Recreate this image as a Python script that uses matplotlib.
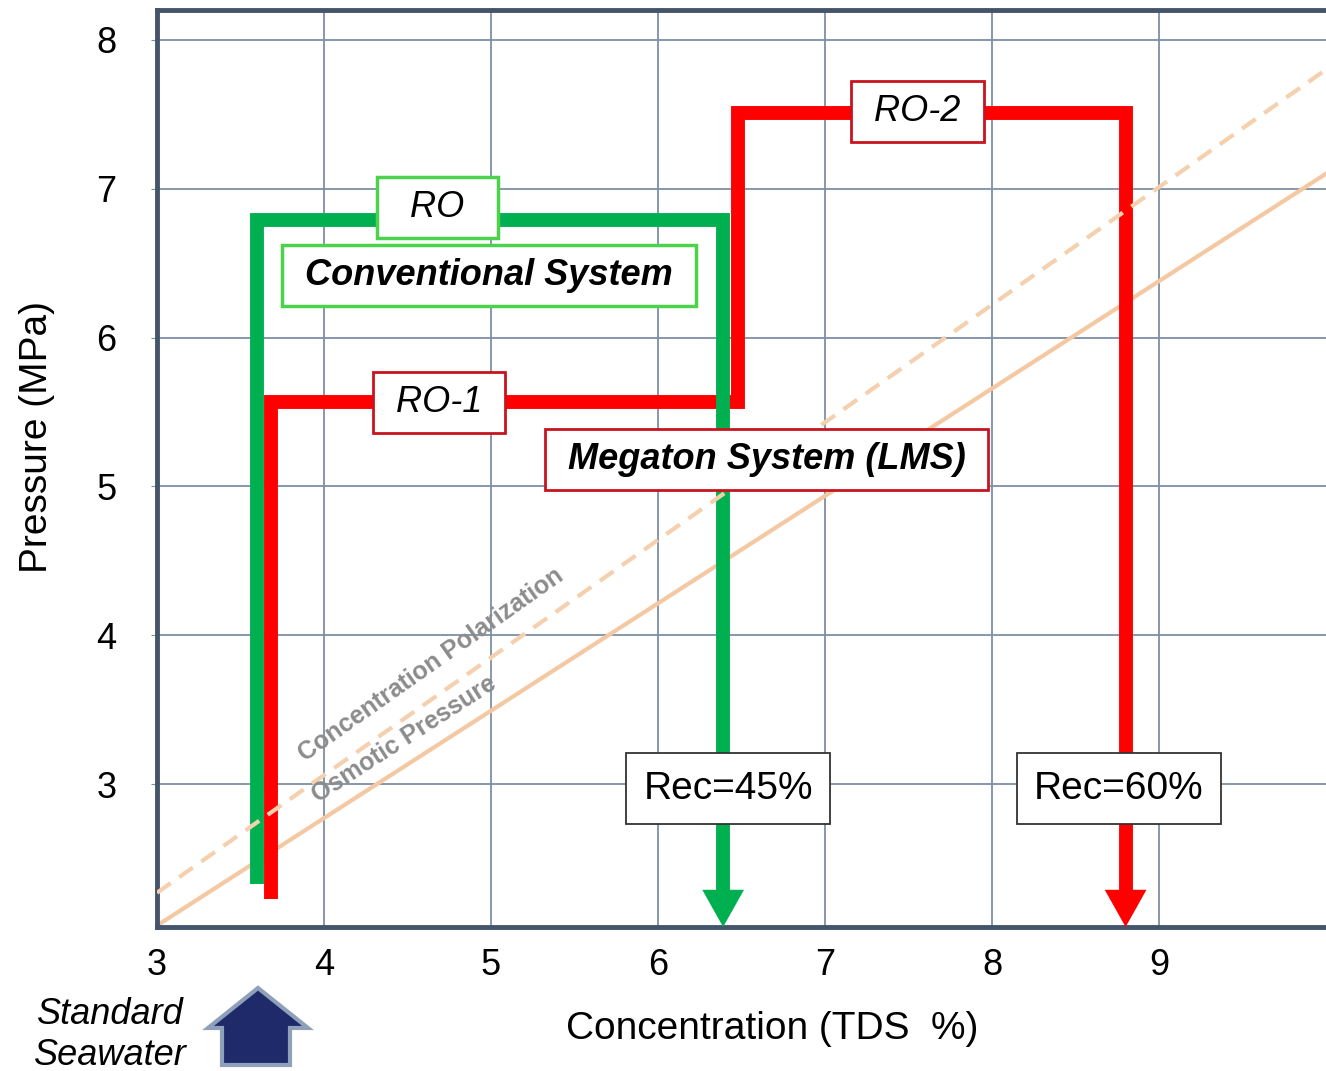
import numpy as np
import matplotlib
matplotlib.use("Agg")
from matplotlib import pyplot as plt
from matplotlib.patches import Polygon

plt.rcParams['font.family'] = ['Liberation Sans', 'DejaVu Sans']

### data
conc_ticks = [3, 4, 5, 6, 7, 8, 9]
pressure_ticks = [3, 4, 5, 6, 7, 8]

# osmotic pressure and concentration polarization lines (TDS %, MPa)
osm_x = [3.0, 10.0]
osm_y = [2.05, 7.10]
cp_x = [3.0, 10.0]
cp_y = [2.27, 7.80]

# conventional RO path (green) and Megaton LMS path (red)
conv_x = [3.60, 3.60, 6.39, 6.39]
conv_y = [2.33, 6.79, 6.79, 2.04]
lms_x = [3.68, 3.68, 6.48, 6.48, 8.80, 8.80]
lms_y = [2.23, 5.57, 5.57, 7.51, 7.51, 2.04]

green = '#00b050'
red = '#ff0000'
spine_col = '#44546a'
grid_col = '#7d90a6'


### arrow head at the end of a path
def path_with_head(ax, xs, ys, color, zorder, head_w=0.125, head_l=0.25):
    xs = list(xs)
    ys = list(ys)
    tip_x, tip_y = xs[-1], ys[-1]
    ys_line = ys[:-1] + [tip_y + head_l]
    ax.plot(xs, ys_line, color=color, lw=10, solid_joinstyle='miter',
            solid_capstyle='butt', zorder=zorder)
    ax.fill([tip_x - head_w, tip_x + head_w, tip_x],
            [tip_y + head_l, tip_y + head_l, tip_y],
            color=color, lw=0, zorder=zorder)


fig = plt.figure(figsize=(13.26, 10.71), dpi=100)
ax = fig.add_axes([157 / 1326, 1 - 927 / 1071, 1169 / 1326, 917 / 1071])

ax.set_xlim(3, 10)
ax.set_ylim(2.04, 8.2)
ax.set_xticks(conc_ticks)
ax.set_yticks(pressure_ticks)
ax.grid(True, color=grid_col, lw=1.3)
ax.set_axisbelow(True)

for s in ['left', 'top', 'bottom']:
    ax.spines[s].set_color(spine_col)
    ax.spines[s].set_linewidth(3.5)
ax.spines['right'].set_visible(False)

ax.tick_params(axis='y', length=4, color=grid_col, labelsize=26, pad=25)
ax.tick_params(axis='x', length=0, labelsize=26, pad=15)

ax.set_xlabel('Concentration (TDS  %)', fontsize=28)
ax.set_ylabel('Pressure (MPa)', fontsize=28)
ax.xaxis.set_label_coords((772 - 157) / 1169, -0.092)
ax.yaxis.set_label_coords(-0.087, (927 - 437) / 917)

# osmotic pressure lines
ax.plot(osm_x, osm_y, color='#f4c8a2', lw=3, zorder=2)
ax.plot(cp_x, cp_y, color='#f5d0ae', lw=3, dashes=(4, 2.5), zorder=4)

# rotated line labels, angle follows the line slope
cp_slope = (cp_y[1] - cp_y[0]) / (cp_x[1] - cp_x[0])
osm_slope = (osm_y[1] - osm_y[0]) / (osm_x[1] - osm_x[0])
ax.text(4.64, 3.80, 'Concentration Polarization', color='#8c8c8c', fontsize=18,
        fontweight='bold', ha='center', va='center', zorder=5,
        rotation=np.degrees(np.arctan(cp_slope)), transform_rotates_text=True,
        rotation_mode='anchor')
ax.text(4.48, 3.30, 'Osmotic Pressure', color='#8c8c8c', fontsize=18,
        fontweight='bold', ha='center', va='center', zorder=5,
        rotation=np.degrees(np.arctan(osm_slope)), transform_rotates_text=True,
        rotation_mode='anchor')

# process paths
path_with_head(ax, lms_x, lms_y, red, 3)
path_with_head(ax, conv_x, conv_y, green, 3.2)


# boxed labels
def box_label(x, y, txt, edge, size=26, weight='normal', style='italic', lw=2.5, pad=0.36):
    ax.text(x, y, txt, fontsize=size, fontweight=weight, fontstyle=style,
            ha='center', va='center', zorder=6,
            bbox=dict(boxstyle='square,pad=%s' % pad, fc='white', ec=edge, lw=lw))

box_label(4.68, 6.87, '  RO  ', '#4cd24c')
box_label(4.99, 6.415, ' Conventional System ', '#4cd24c', weight='bold')
box_label(4.69, 5.564, ' RO-1 ', '#c8141e', lw=2)
box_label(6.65, 5.18, ' Megaton System (LMS) ', '#c8141e', weight='bold', lw=2)
box_label(7.555, 7.52, ' RO-2 ', '#c8141e', lw=2)
box_label(6.42, 2.97, 'Rec=45%', '#333333', size=28, style='normal', lw=1.3, pad=0.45)
box_label(8.76, 2.97, 'Rec=60%', '#333333', size=28, style='normal', lw=1.3, pad=0.45)

# standard seawater marker under the axis
fig.text(110 / 1326, 1 - 1035 / 1071, 'Standard\nSeawater', fontsize=26,
         fontstyle='italic', ha='center', va='center', linespacing=1.2)
arrow_px = [(208, 1028), (258, 988), (308, 1028), (290, 1028), (290, 1065),
            (222, 1065), (222, 1028)]
arrow_fig = [(px / 1326, 1 - py / 1071) for px, py in arrow_px]
fig.patches.append(Polygon(arrow_fig, closed=True, fc='#1f2a6b', ec='#8fa1b8',
                           lw=3, transform=fig.transFigure, figure=fig))

fig.savefig('out.png', dpi=100)
